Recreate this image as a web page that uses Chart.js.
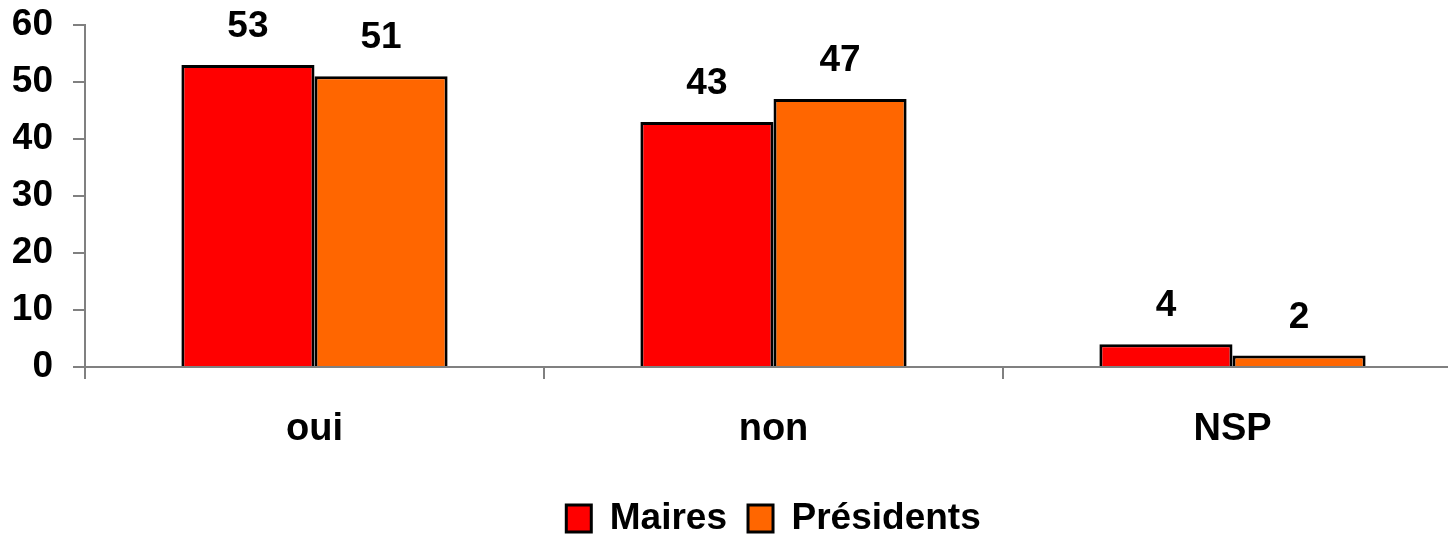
<!DOCTYPE html>
<html>
<head>
<meta charset="utf-8">
<script src="https://cdn.jsdelivr.net/npm/chart.js@4.4.1/dist/chart.umd.min.js"></script>
<style>
    html, body { margin: 0; padding: 0; background: #fff; }
    #cadre { width: 1448px; height: 537px; overflow: hidden; }
</style>
</head>
<body>
<div id="cadre"><canvas id="graf" width="1470" height="537"></canvas></div>
<script>
const categories = ['oui', 'non', 'NSP'];
const maires = [53, 43, 4];
const presidents = [51, 47, 2];
const yTicks = [0, 10, 20, 30, 40, 50, 60];

const police = "'Liberation Sans', Arial, sans-serif";

// valeurs au-dessus des barres
const etiquettes = {
    id: 'etiquettes',
    afterDatasetsDraw(chart) {
        const ctx = chart.ctx;
        ctx.save();
        ctx.font = 'bold 37px ' + police;
        ctx.fillStyle = '#000';
        ctx.textAlign = 'center';
        ctx.textBaseline = 'alphabetic';
        chart.data.datasets.forEach((ds, i) => {
            chart.getDatasetMeta(i).data.forEach((bar, j) => {
                ctx.fillText(String(ds.data[j]), bar.x, bar.y - 28);
            });
        });
        ctx.restore();
    }
};

new Chart(document.getElementById('graf').getContext('2d'), {
    type: 'bar',
    data: {
        labels: categories,
        datasets: [{
            label: 'Maires',
            data: maires,
            backgroundColor: '#ff0000',
            borderColor: '#000',
            borderWidth: 3,
            borderSkipped: 'bottom'
        }, {
            label: 'Présidents',
            data: presidents,
            backgroundColor: '#ff6600',
            borderColor: '#000',
            borderWidth: 3,
            borderSkipped: 'bottom'
        }]
    },
    options: {
        responsive: false,
        animation: false,
        categoryPercentage: 0.58,
        barPercentage: 1,
        layout: {
            padding: { left: 13, right: 8, top: 25, bottom: -10 }
        },
        plugins: {
            tooltip: { enabled: false },
            legend: {
                position: 'bottom',
                fullSize: false,
                labels: {
                    color: '#000',
                    boxWidth: 25,
                    boxHeight: 27,
                    padding: 21,
                    font: { family: police, size: 37, weight: 'bold' }
                }
            }
        },
        scales: {
            y: {
                min: 0,
                max: 60,
                afterBuildTicks: axis => { axis.ticks = yTicks.map(v => ({ value: v })); },
                afterFit: axis => {
                    axis.width = 72;
                    axis.paddingTop = 0;
                    axis.paddingBottom = 0;
                },
                ticks: {
                    color: '#000',
                    padding: 20,
                    font: { family: police, size: 37, weight: 'bold' }
                },
                grid: {
                    drawOnChartArea: false,
                    drawTicks: true,
                    tickLength: 12,
                    color: '#808080',
                    lineWidth: 2
                },
                border: { color: '#808080', width: 2 }
            },
            x: {
                afterFit: axis => { axis.height = 112; },
                ticks: {
                    color: '#000',
                    padding: 28,
                    font: { family: police, size: 38, weight: 'bold' }
                },
                grid: {
                    offset: true,
                    drawOnChartArea: false,
                    tickLength: 12,
                    color: '#808080',
                    lineWidth: 2
                },
                border: { color: '#808080', width: 2 }
            }
        }
    },
    plugins: [etiquettes]
});
</script>
</body>
</html>
